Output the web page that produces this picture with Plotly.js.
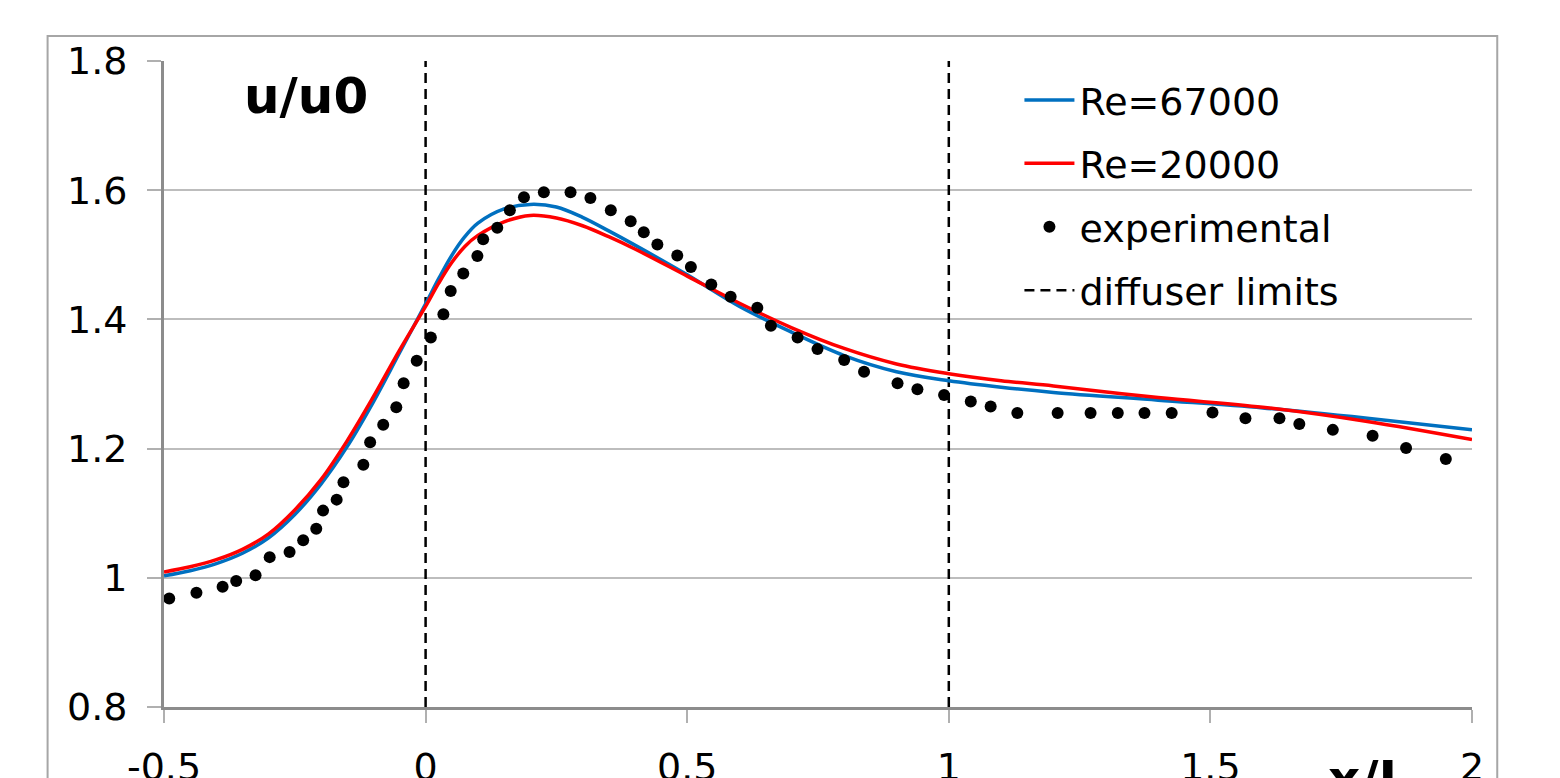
<!DOCTYPE html>
<html>
<head>
<meta charset="utf-8">
<script src="https://cdn.plot.ly/plotly-3.0.1.min.js"></script>
<style>
html,body{margin:0;padding:0;background:#fff;overflow:hidden;}
#chart{width:1560px;height:778px;}
</style>
</head>
<body>
<div id="chart"></div>
<script>
// ---- data ----
const curveX = [-0.5,-0.45,-0.4,-0.35,-0.3,-0.25,-0.2,-0.15,-0.1,-0.05,0,0.025,0.05,0.075,0.1,0.15,0.2,0.25,0.3,0.35,0.4,0.5,0.6,0.7,0.8,0.9,1.0,1.1,1.2,1.4,1.6,1.8,2.0];
const re67000 = [1.003,1.011,1.022,1.038,1.062,1.098,1.145,1.203,1.272,1.348,1.424,1.463,1.499,1.528,1.549,1.571,1.578,1.574,1.558,1.537,1.515,1.469,1.420,1.380,1.344,1.319,1.305,1.295,1.287,1.275,1.263,1.247,1.229];
const re20000 = [1.009,1.017,1.028,1.044,1.068,1.105,1.152,1.212,1.280,1.352,1.420,1.456,1.488,1.513,1.530,1.551,1.561,1.557,1.545,1.528,1.509,1.467,1.425,1.387,1.355,1.331,1.316,1.305,1.297,1.279,1.264,1.242,1.214];
const expX = [-0.490,-0.438,-0.388,-0.362,-0.325,-0.298,-0.260,-0.234,-0.209,-0.196,-0.170,-0.157,-0.119,-0.106,-0.081,-0.056,-0.042,-0.017,0.010,0.034,0.048,0.072,0.099,0.110,0.137,0.161,0.188,0.226,0.277,0.315,0.354,0.392,0.417,0.443,0.481,0.507,0.546,0.583,0.634,0.660,0.711,0.749,0.800,0.838,0.902,0.940,0.991,1.042,1.080,1.131,1.208,1.271,1.323,1.374,1.426,1.504,1.567,1.632,1.670,1.734,1.810,1.874,1.950];
const expY = [0.968,0.977,0.986,0.995,1.004,1.032,1.040,1.058,1.076,1.104,1.121,1.148,1.175,1.210,1.237,1.264,1.301,1.336,1.372,1.408,1.444,1.471,1.498,1.524,1.542,1.569,1.589,1.597,1.597,1.588,1.569,1.552,1.535,1.516,1.499,1.481,1.454,1.435,1.418,1.390,1.372,1.354,1.337,1.319,1.301,1.292,1.283,1.273,1.265,1.255,1.255,1.255,1.255,1.255,1.255,1.256,1.247,1.247,1.238,1.229,1.220,1.201,1.184];
const diffuserX = [0, 1];
const yRange = [0.8, 1.8];
const xTickVals = [-0.5, 0, 0.5, 1, 1.5, 2];
const xTickText = ['-0.5', '0', '0.5', '1', '1.5', '2'];
const yTickVals = [0.8, 1, 1.2, 1.4, 1.6, 1.8];
const yTickText = ['0.8', '1', '1.2', '1.4', '1.6', '1.8'];
const seriesNames = ['Re=67000', 'Re=20000', 'experimental', 'diffuser limits'];

// diffuser limit lines built from the data
const dX = [], dY = [];
diffuserX.forEach((v, i) => {
  if (i > 0) { dX.push(null); dY.push(null); }
  dX.push(v, v); dY.push(yRange[0], yRange[1]);
});

const FONT = 'DejaVu Sans, Verdana, sans-serif';

const traces = [
  {x: curveX, y: re67000, name: seriesNames[0], mode: 'lines', line: {color: '#0070C0', width: 3.5, shape: 'spline', smoothing: 1}, legendgroup: 'a', legendrank: 1},
  {x: curveX, y: re20000, name: seriesNames[1], mode: 'lines', line: {color: '#FF0000', width: 3.5, shape: 'spline', smoothing: 1}, legendgroup: 'b', legendrank: 2},
  {x: expX, y: expY, name: seriesNames[2], mode: 'markers', marker: {color: '#000', size: 12}, legendgroup: 'c', legendrank: 3},
  {x: dX, y: dY, name: seriesNames[3], mode: 'lines', line: {color: '#000', width: 2.5, dash: '10px,6px'}, legendgroup: 'd', legendrank: 4}
];
// draw dashed lines first so they sit below the curves
const ordered = [traces[3], traces[0], traces[1], traces[2]];

const layout = {
  width: 1560, height: 778,
  margin: {l: 164, r: 88, t: 61, b: 71, pad: 0},
  paper_bgcolor: '#fff', plot_bgcolor: '#fff',
  font: {family: FONT, size: 38, color: '#000'},
  showlegend: true,
  legend: {
    x: 0.654, y: 0.988, xanchor: 'left', yanchor: 'top',
    traceorder: 'grouped', tracegroupgap: 11, itemwidth: 50,
    font: {family: FONT, size: 38, color: '#000'},
    bgcolor: 'rgba(0,0,0,0)', borderwidth: 0
  },
  xaxis: {
    range: [-0.5, 2], tickvals: xTickVals, ticktext: xTickText,
    showgrid: false, zeroline: false,
    showline: true, linecolor: '#8c8c8c', linewidth: 3,
    ticks: 'outside', ticklen: 13, tickwidth: 2, tickcolor: '#b0b0b0',
    ticklabelstandoff: 11,
    tickfont: {family: FONT, size: 38, color: '#000'}
  },
  yaxis: {
    range: yRange, tickvals: yTickVals, ticktext: yTickText,
    showgrid: true, gridcolor: '#bdbdbd', gridwidth: 2,
    zeroline: false,
    showline: true, linecolor: '#8c8c8c', linewidth: 3,
    ticks: 'outside', ticklen: 14, tickwidth: 2, tickcolor: '#b0b0b0',
    ticklabelstandoff: 12,
    tickfont: {family: FONT, size: 38, color: '#000'}
  },
  annotations: [
    {text: '<b>u/u0</b>', xref: 'paper', yref: 'paper', x: 0.060, y: 0.946, xanchor: 'left', yanchor: 'middle', showarrow: false, font: {family: FONT, size: 50, color: '#000'}},
    {text: '<b>x/L</b>', xref: 'paper', yref: 'paper', x: 0.888, y: -0.064, xanchor: 'left', yanchor: 'top', showarrow: false, font: {family: FONT, size: 50, color: '#000'}}
  ],
  shapes: [
    {type: 'rect', xref: 'paper', yref: 'paper', x0: -0.089, x1: 1.0193, y0: -0.3, y1: 1.0387, line: {color: '#a6a6a6', width: 2}, fillcolor: 'rgba(0,0,0,0)', layer: 'below'}
  ]
};

Plotly.newPlot('chart', ordered, layout, {displayModeBar: false, staticPlot: true});
</script>
</body>
</html>
